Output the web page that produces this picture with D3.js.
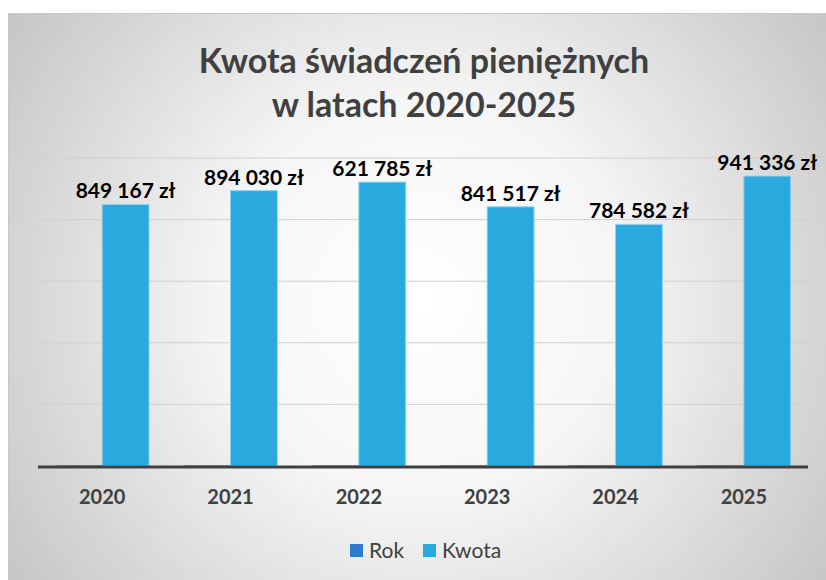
<!DOCTYPE html>
<html><head><meta charset="utf-8">
<script src="https://cdn.jsdelivr.net/npm/d3@7"></script>
<style>body{margin:0;background:#fff}svg{display:block}</style>
</head><body>
<script>
const years = ["2020","2021","2022","2023","2024","2025"];
const rok = [2020, 2021, 2022, 2023, 2024, 2025];
const kwota = [849167, 894030, 921785, 841517, 784582, 941336];
const labels = ["849 167 zł","894 030 zł","621 785 zł","841 517 zł","784 582 zł","941 336 zł"];
const seriesNames = ["Rok","Kwota"];
const seriesColors = ["#2e7bcf","#29a9dd"];
const yTicks = [0,200000,400000,600000,800000,1000000];

const W=826,H=580;
const svg=d3.select("body").append("svg").attr("width",W).attr("height",H);
const defs=svg.append("defs");
const rg=defs.append("radialGradient").attr("id","bg").attr("gradientUnits","userSpaceOnUse")
  .attr("cx",420).attr("cy",300).attr("r",560);
rg.append("stop").attr("offset","0%").attr("stop-color","#ffffff");
rg.append("stop").attr("offset","35%").attr("stop-color","#f6f6f6");
rg.append("stop").attr("offset","100%").attr("stop-color","#bcbcbc");
svg.append("rect").attr("x",8.5).attr("y",13.5).attr("width",W-8).attr("height",H-13)
  .attr("fill","url(#bg)").attr("stroke","#c8c8c8");

const font="Lato, 'Open Sans', sans-serif";
svg.append("text").attr("x",424).attr("y",73).attr("text-anchor","middle")
  .attr("font-family",font).attr("font-weight","bold").attr("font-size",34).attr("fill","#404040")
  .text("Kwota świadczeń pieniężnych");
svg.append("text").attr("x",424).attr("y",117).attr("text-anchor","middle")
  .attr("font-family",font).attr("font-weight","bold").attr("font-size",34).attr("fill","#404040")
  .text("w latach 2020-2025");

const x=d3.scaleBand().domain(years).range([38,808]).paddingInner(0.27).paddingOuter(0.135);
const x1=d3.scaleBand().domain(seriesNames).range([0,x.bandwidth()]);
const y=d3.scaleLinear().domain([0,1000000]).range([466,158]);

svg.append("g").selectAll("line").data(yTicks.slice(1)).join("line")
  .attr("x1",38).attr("x2",808).attr("y1",d=>y(d)).attr("y2",d=>y(d))
  .attr("stroke","#cfcfcf").attr("stroke-width",1);

svg.append("g").selectAll("rect").data(rok).join("rect")
  .attr("x",(d,i)=>x(years[i])+x1("Rok")).attr("width",x1.bandwidth())
  .attr("y",d=>y(d)).attr("height",d=>y(0)-y(d)).attr("fill",seriesColors[0]);

svg.append("g").selectAll("rect").data(kwota).join("rect")
  .attr("x",(d,i)=>x(years[i])+x1("Kwota")).attr("width",x1.bandwidth())
  .attr("y",d=>y(d)).attr("height",d=>y(0)-y(d))
  .attr("fill",seriesColors[1]).attr("stroke","#8fd3f0").attr("stroke-width",1);

svg.append("line").attr("x1",38).attr("x2",808).attr("y1",y(0)+1).attr("y2",y(0)+1)
  .attr("stroke","#404040").attr("stroke-width",3);

svg.append("g").selectAll("text").data(kwota).join("text")
  .attr("x",(d,i)=>x(years[i])+x1("Kwota")+x1.bandwidth()/2).attr("y",d=>y(d)-6)
  .attr("text-anchor","middle").attr("font-family",font).attr("font-weight","bold")
  .attr("font-size",21).attr("fill","#000").text((d,i)=>labels[i]);

const xa=svg.append("g").attr("transform",`translate(0,${y(0)})`)
  .call(d3.axisBottom(x).tickSize(0).tickPadding(24));
xa.select(".domain").remove();
xa.selectAll("text").attr("font-family",font).attr("font-weight","bold").attr("font-size",20).attr("fill","#404040");

const lg=svg.append("g");
const lx=[350,423];
seriesNames.forEach((n,i)=>{
  lg.append("rect").attr("x",lx[i]).attr("y",544).attr("width",13).attr("height",13).attr("fill",seriesColors[i]);
  lg.append("text").attr("x",lx[i]+19).attr("y",558).attr("font-family",font).attr("font-size",21)
    .attr("fill","#404040").text(n);
});
</script>
</body></html>
